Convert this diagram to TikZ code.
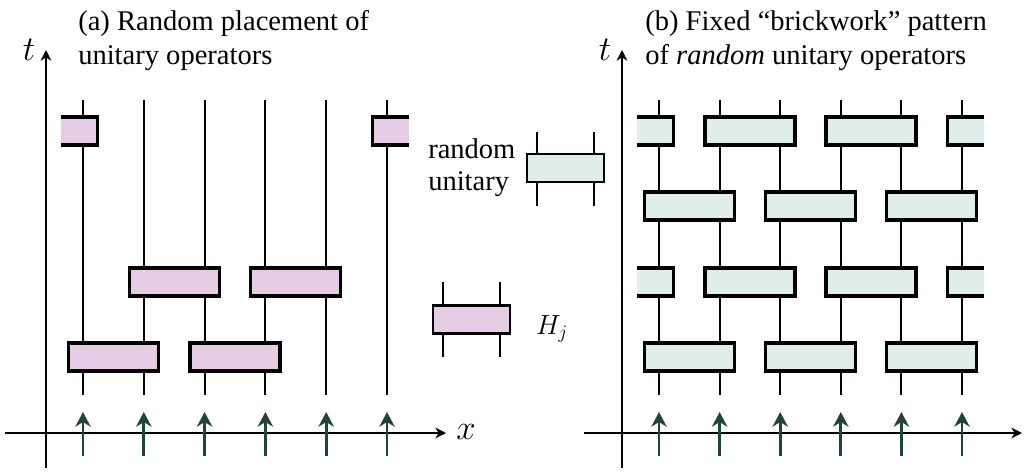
\documentclass[tikz,border=0pt]{standalone}
\usepackage{fontspec}
\setmainfont{Liberation Serif}
\usetikzlibrary{arrows.meta}
\definecolor{pinkfill}{HTML}{E6CCE4}
\definecolor{greenfill}{HTML}{E0EEEA}
\definecolor{spincol}{HTML}{1E4536}
\tikzset{
  wire/.style={line width=1.4pt},
  axis/.style={line width=1.5pt,-{Stealth[length=8pt,width=8pt,inset=2.5pt]}},
  spinarrow/.style={line width=2.2pt,draw=spincol,-{Stealth[length=11pt,width=11.5pt,inset=3.5pt]}},
  gatebox/.style={draw,line width=2.5pt,minimum width=67.5pt,minimum height=21pt,inner sep=0pt},
  legbox/.style={draw,line width=1.8pt,minimum width=58pt,minimum height=21pt,inner sep=0pt},
  titletext/.style={font=\fontsize{21.4}{25.5}\selectfont,align=left,inner sep=0pt},
  axlabel/.style={font=\fontsize{24.88}{30}\selectfont,inner sep=0pt},
}
% partial gates: #1 name, #2 leg x, #3 row y, #4 fill colour
\newcommand{\lpartgate}[4]{%
  \fill[#4] (#2-22,#3-14) rectangle (#2+14.5,#3+14);
  \draw[line width=2.5pt] (#2-22,#3-14) -- (#2+14.5,#3-14) -- (#2+14.5,#3+14) -- (#2-22,#3+14);
  \coordinate (#1) at (#2,#3);}
\newcommand{\rpartgate}[4]{%
  \fill[#4] (#2-14.5,#3-14) rectangle (#2+22,#3+14);
  \draw[line width=2.5pt] (#2+22,#3-14) -- (#2-14.5,#3-14) -- (#2-14.5,#3+14) -- (#2+22,#3+14);
  \coordinate (#1) at (#2,#3);}
\begin{document}
\begin{tikzpicture}[x=0.75pt,y=-0.75pt]
\useasboundingbox (0,0) rectangle (1027,471);

% ---------------- panel (a) ----------------
\coordinate (aT0) at (46,468);
\coordinate (aT1) at (46,50);
\coordinate (aX0) at (5,433);
\coordinate (aX1) at (446,433);
\draw[axis] (aT0) -- (aT1);
\draw[axis] (aX0) -- (aX1);
\node[axlabel] (alabt) at (29,50) {\scalebox{1.05}{$t$}};
\node[axlabel] (alabx) at (466,432) {\scalebox{1.05}{$x$}};
\node[titletext,anchor=base west] (atitle) at (78,64) {(a) Random placement of\\unitary operators};

\foreach \i/\x in {1/83,2/143.8,3/204.6,4/265.4,5/326.2,6/387}{
  \coordinate (aw\i t) at (\x,100);
  \coordinate (aw\i b) at (\x,395);
  \draw[wire] (aw\i t) -- (aw\i b);
  \coordinate (as\i b) at (\x,456);
  \coordinate (as\i t) at (\x,412);
  \draw[spinarrow] (as\i b) -- (as\i t);
}
\lpartgate{ag11}{83}{131}{pinkfill}
\rpartgate{ag16}{387}{131}{pinkfill}
\node[gatebox,fill=pinkfill] (ag32) at (174.2,282) {};
\node[gatebox,fill=pinkfill] (ag34) at (295.8,282) {};
\node[gatebox,fill=pinkfill] (ag41) at (113.4,357) {};
\node[gatebox,fill=pinkfill] (ag43) at (235,357) {};

% ---------------- legend ----------------
\node[font=\fontsize{21.4}{24}\selectfont,align=left,inner sep=0pt,anchor=base west] (lrand) at (428,190) {random\\unitary};
\coordinate (lu1t) at (537,132); \coordinate (lu1b) at (537,206);
\coordinate (lu2t) at (594,132); \coordinate (lu2b) at (594,206);
\draw[wire] (lu1t) -- (lu1b);
\draw[wire] (lu2t) -- (lu2b);
\node[legbox,fill=greenfill] (lugate) at (565.5,168) {};

\coordinate (lh1t) at (443,282); \coordinate (lh1b) at (443,357);
\coordinate (lh2t) at (500,282); \coordinate (lh2b) at (500,357);
\draw[wire] (lh1t) -- (lh1b);
\draw[wire] (lh2t) -- (lh2b);
\node[legbox,fill=pinkfill] (lhgate) at (471.5,319.5) {};
\node[font=\fontsize{20.74}{24}\selectfont,inner sep=0pt] (lhlab) at (552,329) {$H_j$};

% ---------------- panel (b) ----------------
\coordinate (bT0) at (622,468);
\coordinate (bT1) at (622,50);
\coordinate (bX0) at (584,433);
\coordinate (bX1) at (1022,433);
\draw[axis] (bT0) -- (bT1);
\draw[axis] (bX0) -- (bX1);
\node[axlabel] (blabt) at (605,50) {\scalebox{1.05}{$t$}};
\node[titletext,anchor=base west] (btitle) at (645,64) {(b) Fixed “brickwork” pattern\\of \textit{random} unitary operators};

\foreach \i/\x in {1/659,2/719.6,3/780.2,4/840.8,5/901.4,6/962}{
  \coordinate (bw\i t) at (\x,100);
  \coordinate (bw\i b) at (\x,395);
  \draw[wire] (bw\i t) -- (bw\i b);
  \coordinate (bs\i b) at (\x,456);
  \coordinate (bs\i t) at (\x,412);
  \draw[spinarrow] (bs\i b) -- (bs\i t);
}
\foreach \r/\y in {1/131,3/282}{
  \lpartgate{bg\r1}{659}{\y}{greenfill}
  \rpartgate{bg\r6}{962}{\y}{greenfill}
  \node[gatebox,fill=greenfill] (bg\r2) at (749.9,\y) {};
  \node[gatebox,fill=greenfill] (bg\r4) at (871.1,\y) {};
}
\foreach \r/\y in {2/206,4/357}{
  \node[gatebox,fill=greenfill] (bg\r1) at (689.3,\y) {};
  \node[gatebox,fill=greenfill] (bg\r3) at (810.5,\y) {};
  \node[gatebox,fill=greenfill] (bg\r5) at (931.7,\y) {};
}
\end{tikzpicture}
\end{document}
